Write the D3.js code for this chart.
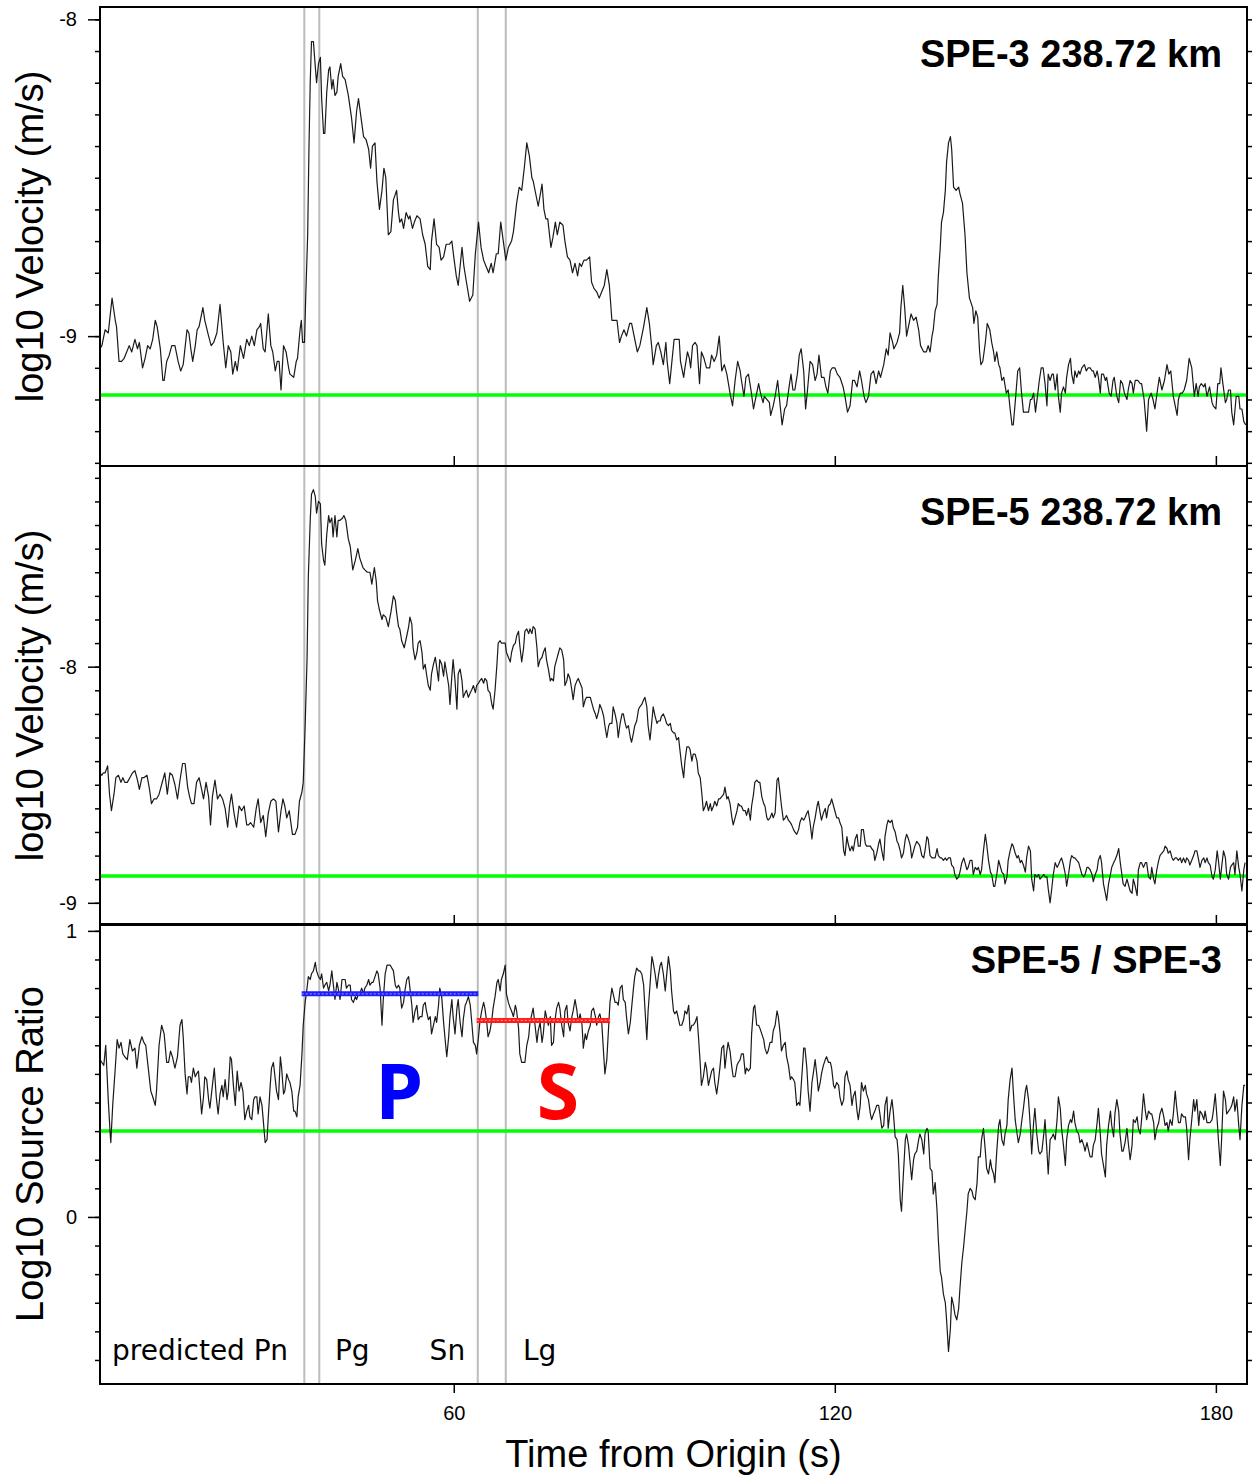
<!DOCTYPE html>
<html>
<head>
<meta charset="utf-8">
<script src="https://cdn.jsdelivr.net/npm/d3@7"></script>
<style>
body { margin: 0; background: #fff; }
svg { display: block; background: #fff; }
.frame { fill: none; stroke: #000; stroke-width: 2; }
.axis path { display: none; }
.axis line { stroke: #000; stroke-width: 1.5; }
.axis text { font-family: 'Liberation Sans', Arial, Helvetica, sans-serif; font-size: 20px; fill: #000; }
.trace { fill: none; stroke: #1a1a1a; stroke-width: 1.2; stroke-linejoin: round; }
.title { font-family: 'Liberation Sans', Arial, Helvetica, sans-serif; font-size: 38px; font-weight: bold; text-anchor: end; }
.ylabel, .xlabel { font-family: 'Liberation Sans', Arial, Helvetica, sans-serif; font-size: 38px; text-anchor: middle; }
.phase { font-family: 'DejaVu Sans', 'Open Sans', sans-serif; font-size: 28px; }
.window-label { font-family: 'Open Sans', 'DejaVu Sans', sans-serif; font-size: 77px; font-weight: bold; text-anchor: middle; }
</style>
</head>
<body>
<svg width="1257" height="1477"></svg>
<script>
// Time (s) and log10 velocity
var spe3Trace = [
[4.3,-9.04],[4.6,-9.03],[5.1,-8.98],[5.6,-8.99],[6.2,-8.88],[6.7,-8.95],[6.9,-8.97],[7.3,-9.08],[7.7,-9.08],[8.1,-9.07],[8.5,-9.05],[8.9,-9.03],[9.3,-9.05],[9.8,-9.01],[10.2,-9.04],[10.5,-9.02],[11.0,-9.10],[11.4,-9.07],[11.8,-9.03],[12.2,-9.04],[12.6,-9.01],[13.0,-8.95],[13.3,-8.97],[13.8,-9.04],[14.2,-9.14],[14.4,-9.14],[14.8,-9.08],[15.2,-9.06],[15.6,-9.03],[16.1,-9.03],[16.6,-9.08],[17.0,-9.11],[17.4,-9.09],[18.0,-8.98],[18.3,-8.99],[18.6,-9.04],[18.9,-9.08],[19.3,-9.03],[19.6,-8.98],[19.9,-8.97],[20.5,-8.91],[20.8,-8.95],[21.4,-9.00],[21.8,-9.03],[22.2,-9.02],[22.7,-8.99],[23.2,-8.90],[23.7,-9.02],[24.1,-9.10],[24.5,-9.03],[24.9,-9.05],[25.2,-9.12],[25.6,-9.08],[25.9,-9.11],[26.4,-9.03],[26.9,-9.07],[27.4,-9.01],[27.8,-9.03],[28.2,-9.00],[28.6,-9.03],[29.0,-8.98],[29.4,-8.97],[29.6,-8.96],[30.0,-9.04],[30.3,-9.05],[30.8,-8.93],[31.2,-9.03],[31.5,-9.05],[31.9,-9.11],[32.2,-9.08],[32.5,-9.08],[32.8,-9.17],[33.2,-9.03],[33.6,-9.05],[34.0,-9.10],[34.2,-9.12],[34.8,-9.13],[35.2,-9.08],[35.4,-9.07],[35.8,-8.98],[36.0,-8.95],[36.2,-9.02],[36.5,-9.02],[36.7,-8.87],[37.0,-8.68],[37.2,-8.41],[37.4,-8.20],[37.6,-8.07],[37.9,-8.07],[38.2,-8.15],[38.4,-8.20],[38.7,-8.14],[39.0,-8.12],[39.2,-8.25],[39.5,-8.36],[39.7,-8.36],[40.0,-8.23],[40.3,-8.16],[40.5,-8.15],[40.8,-8.22],[41.0,-8.19],[41.3,-8.24],[41.6,-8.23],[41.8,-8.18],[42.2,-8.14],[42.5,-8.18],[42.9,-8.19],[43.4,-8.24],[43.9,-8.31],[44.3,-8.39],[44.7,-8.29],[45.0,-8.25],[45.4,-8.31],[45.8,-8.37],[46.2,-8.38],[46.6,-8.41],[46.9,-8.47],[47.2,-8.40],[47.6,-8.39],[47.9,-8.51],[48.3,-8.60],[48.7,-8.54],[49.0,-8.47],[49.3,-8.50],[49.7,-8.68],
[50.1,-8.67],[50.5,-8.57],[51.0,-8.54],[51.3,-8.61],[51.5,-8.64],[51.8,-8.63],[52.1,-8.66],[52.5,-8.61],[52.9,-8.63],[53.1,-8.62],[53.5,-8.66],[53.8,-8.64],[54.2,-8.62],[54.7,-8.63],[55.1,-8.68],[55.5,-8.71],[55.9,-8.78],[56.3,-8.79],[56.5,-8.70],[56.9,-8.63],[57.3,-8.71],[57.7,-8.72],[58.0,-8.76],[58.4,-8.75],[58.8,-8.71],[59.3,-8.71],[59.7,-8.70],[60.0,-8.75],[60.4,-8.81],[60.7,-8.84],[61.3,-8.72],[61.6,-8.78],[62.0,-8.83],[62.5,-8.89],[63.0,-8.87],[63.4,-8.74],[63.9,-8.64],[64.3,-8.72],[64.7,-8.76],[65.1,-8.78],[65.5,-8.80],[65.9,-8.77],[66.2,-8.80],[66.7,-8.74],[67.0,-8.74],[67.4,-8.64],[67.8,-8.70],[68.2,-8.76],[68.6,-8.72],[69.1,-8.70],[69.4,-8.67],[69.9,-8.58],[70.3,-8.53],[70.7,-8.54],[71.1,-8.47],[71.5,-8.39],[71.9,-8.43],[72.3,-8.50],[72.5,-8.51],[73.0,-8.56],[73.3,-8.59],[73.9,-8.52],[74.2,-8.60],[74.5,-8.63],[74.8,-8.63],[75.3,-8.72],[75.6,-8.69],[76.0,-8.64],[76.3,-8.68],[76.7,-8.64],[77.2,-8.65],[77.5,-8.70],[77.9,-8.75],[78.3,-8.76],[78.7,-8.80],[79.1,-8.77],[79.5,-8.81],[79.8,-8.77],[80.1,-8.78],[80.5,-8.76],[80.9,-8.76],[81.4,-8.75],[81.7,-8.83],[82.1,-8.85],[82.5,-8.86],[82.9,-8.88],[83.3,-8.86],[83.7,-8.84],[84.1,-8.79],[84.5,-8.84],[84.9,-8.95],[85.2,-8.95],[85.7,-8.95],[86.1,-9.02],[86.4,-9.00],[86.8,-8.98],[87.2,-9.00],[87.7,-8.96],[88.0,-8.96],[88.4,-9.00],[88.9,-9.05],[89.3,-9.03],[89.9,-8.97],[90.4,-8.91],[90.8,-8.96],[91.2,-9.04],[91.4,-9.09],[91.9,-9.03],[92.2,-9.02],[92.6,-9.05],[93.0,-9.09],[93.4,-9.02],[93.6,-9.08],[94.0,-9.15],[94.3,-9.09],[94.7,-9.01],[95.1,-9.01],[95.5,-9.01],
[95.7,-9.08],[96.2,-9.13],[96.4,-9.10],[96.8,-9.05],[97.1,-9.07],[97.3,-9.10],[97.6,-9.03],[98.0,-9.02],[98.3,-9.03],[98.7,-9.15],[99.0,-9.05],[99.4,-9.07],[99.8,-9.10],[100.3,-9.10],[100.6,-9.06],[101.0,-9.08],[101.4,-9.06],[101.8,-9.00],[102.2,-9.11],[102.6,-9.09],[103.0,-9.12],[103.5,-9.18],[103.9,-9.22],[104.3,-9.14],[104.7,-9.08],[105.1,-9.11],[105.3,-9.14],[105.7,-9.19],[106.0,-9.13],[106.4,-9.12],[106.8,-9.17],[107.2,-9.23],[107.6,-9.19],[108.0,-9.15],[108.3,-9.18],[108.7,-9.21],[108.9,-9.19],[109.3,-9.20],[109.7,-9.21],[109.9,-9.25],[110.3,-9.22],[110.6,-9.19],[111.0,-9.14],[111.3,-9.20],[111.7,-9.28],[112.1,-9.23],[112.4,-9.22],[112.8,-9.16],[113.1,-9.12],[113.4,-9.17],[113.7,-9.17],[114.1,-9.12],[114.4,-9.06],[114.7,-9.04],[115.1,-9.11],[115.4,-9.23],[115.7,-9.17],[116.1,-9.08],[116.5,-9.09],[116.9,-9.14],[117.2,-9.12],[117.5,-9.06],[117.9,-9.13],[118.3,-9.13],[118.6,-9.16],[118.9,-9.18],[119.3,-9.11],[119.6,-9.10],[120.0,-9.10],[120.4,-9.12],[120.8,-9.13],[121.3,-9.16],[121.6,-9.19],[122.0,-9.24],[122.4,-9.22],[122.8,-9.14],[123.1,-9.14],[123.5,-9.16],[123.9,-9.11],[124.2,-9.14],[124.6,-9.19],[124.9,-9.21],[125.3,-9.19],[125.7,-9.12],[126.1,-9.11],[126.5,-9.15],[126.9,-9.11],[127.2,-9.13],[127.7,-9.09],[128.1,-9.04],[128.4,-9.06],[128.7,-8.99],[129.1,-9.02],[129.3,-9.04],[129.8,-9.02],[130.2,-8.99],[130.4,-8.91],[130.7,-8.84],[131.0,-8.91],[131.3,-9.00],[131.6,-8.97],[132.0,-8.93],[132.4,-8.95],[132.8,-8.94],[133.2,-8.98],[133.5,-9.03],[134.0,-9.05],[134.4,-9.05],[134.7,-9.03],[135.0,-9.05],[135.3,-9.00],[135.5,-8.98],[135.8,-8.92],[136.1,-8.90],[136.3,-8.81],[136.6,-8.72],[136.8,-8.64],[137.1,-8.61],[137.4,-8.54],[137.6,-8.45],[137.9,-8.39],[138.2,-8.37],[138.4,-8.41],[138.7,-8.53],[139.1,-8.54],[139.5,-8.53],[139.7,-8.55],[140.1,-8.58],[140.5,-8.68],[140.8,-8.80],[141.2,-8.88],
[141.7,-8.91],[141.9,-8.96],[142.2,-8.92],[142.5,-8.94],[142.8,-9.05],[143.0,-9.09],[143.3,-9.08],[143.7,-9.02],[144.0,-8.96],[144.4,-8.98],[144.7,-9.02],[145.0,-9.05],[145.2,-9.08],[145.5,-9.05],[145.8,-9.09],[146.0,-9.10],[146.3,-9.14],[146.6,-9.13],[147.0,-9.18],[147.3,-9.17],[147.6,-9.23],[147.9,-9.28],[148.1,-9.28],[148.4,-9.21],[148.8,-9.11],[149.1,-9.10],[149.4,-9.18],[149.7,-9.24],[150.1,-9.24],[150.5,-9.24],[150.8,-9.20],[151.0,-9.20],[151.3,-9.18],[151.6,-9.24],[151.9,-9.19],[152.2,-9.14],[152.5,-9.10],[152.8,-9.10],[153.1,-9.15],[153.4,-9.22],[153.6,-9.12],[153.9,-9.14],[154.2,-9.12],[154.4,-9.12],[154.7,-9.17],[155.0,-9.12],[155.2,-9.19],[155.5,-9.24],[155.7,-9.18],[156.0,-9.16],[156.3,-9.18],[156.5,-9.13],[156.8,-9.09],[157.1,-9.07],[157.3,-9.12],[157.6,-9.15],[157.8,-9.11],[158.1,-9.13],[158.4,-9.11],[158.6,-9.12],[158.9,-9.10],[159.3,-9.09],[159.6,-9.11],[159.9,-9.10],[160.2,-9.10],[160.5,-9.11],[160.7,-9.11],[161.0,-9.13],[161.3,-9.11],[161.5,-9.13],[161.8,-9.18],[162.0,-9.12],[162.3,-9.12],[162.6,-9.14],[162.8,-9.13],[163.2,-9.18],[163.5,-9.19],[163.8,-9.14],[164.0,-9.13],[164.4,-9.19],[164.7,-9.21],[165.0,-9.14],[165.3,-9.15],[165.6,-9.18],[166.0,-9.20],[166.2,-9.17],[166.5,-9.14],[166.8,-9.15],[167.0,-9.18],[167.3,-9.14],[167.7,-9.14],[168.1,-9.15],[168.3,-9.15],[168.7,-9.20],[169.1,-9.30],[169.4,-9.20],[169.8,-9.18],[170.1,-9.20],[170.4,-9.23],[170.8,-9.17],[171.1,-9.13],[171.5,-9.17],[171.9,-9.14],[172.3,-9.09],[172.6,-9.12],[172.9,-9.11],[173.3,-9.19],[173.6,-9.22],[173.9,-9.25],[174.1,-9.20],[174.4,-9.18],[174.7,-9.18],[175.0,-9.17],[175.4,-9.14],[175.8,-9.07],[176.2,-9.10],[176.6,-9.19],[176.9,-9.15],[177.2,-9.19],[177.4,-9.16],[177.7,-9.15],[178.1,-9.16],[178.3,-9.15],[178.6,-9.19],[179.0,-9.16],[179.4,-9.21],[179.6,-9.22],[180.0,-9.23],[180.3,-9.15],[180.6,-9.15],[180.8,-9.10],[181.1,-9.15],[181.5,-9.21],[181.7,-9.20],[182.0,-9.17],[182.3,-9.17],[182.5,-9.24],[182.8,-9.28],[183.2,-9.19],[183.6,-9.19],[183.8,-9.23],[184.1,-9.23],[184.4,-9.27],[184.7,-9.28]
];

// Time (s) and log10 velocity
var spe5Trace = [
[4.3,-8.45],[4.6,-8.46],[4.8,-8.45],[5.1,-8.45],[5.5,-8.42],[5.8,-8.54],[6.1,-8.61],[6.5,-8.54],[6.8,-8.47],[7.2,-8.46],[7.6,-8.49],[7.9,-8.47],[8.2,-8.49],[8.6,-8.49],[9.0,-8.47],[9.4,-8.45],[9.8,-8.44],[10.2,-8.48],[10.5,-8.52],[10.9,-8.47],[11.2,-8.47],[11.7,-8.46],[12.1,-8.52],[12.4,-8.58],[12.8,-8.56],[13.2,-8.56],[13.6,-8.54],[14.0,-8.50],[14.5,-8.45],[14.9,-8.54],[15.3,-8.45],[15.7,-8.46],[16.1,-8.50],[16.5,-8.56],[16.9,-8.48],[17.3,-8.41],[17.7,-8.41],[18.1,-8.51],[18.4,-8.55],[18.7,-8.58],[19.1,-8.58],[19.5,-8.49],[19.9,-8.47],[20.3,-8.52],[20.6,-8.56],[21.0,-8.49],[21.4,-8.55],[21.7,-8.67],[22.0,-8.55],[22.4,-8.48],[22.8,-8.56],[23.2,-8.54],[23.6,-8.56],[24.0,-8.60],[24.4,-8.68],[24.7,-8.59],[25.0,-8.54],[25.4,-8.62],[25.8,-8.68],[26.2,-8.59],[26.6,-8.61],[27.0,-8.59],[27.4,-8.67],[27.7,-8.67],[28.0,-8.66],[28.5,-8.68],[28.9,-8.60],[29.2,-8.56],[29.6,-8.66],[30.0,-8.63],[30.4,-8.72],[30.8,-8.62],[31.2,-8.57],[31.6,-8.56],[32.0,-8.57],[32.4,-8.70],[32.8,-8.61],[33.1,-8.56],[33.4,-8.59],[33.7,-8.64],[34.1,-8.61],[34.3,-8.65],[34.6,-8.71],[35.0,-8.71],[35.4,-8.68],[35.7,-8.57],[36.1,-8.53],[36.3,-8.49],[36.6,-8.25],[36.9,-7.97],[37.1,-7.62],[37.4,-7.38],[37.6,-7.27],[37.9,-7.25],[38.2,-7.28],[38.4,-7.35],[38.7,-7.30],[39.0,-7.31],[39.2,-7.48],[39.5,-7.55],[39.7,-7.57],[40.0,-7.44],[40.3,-7.36],[40.5,-7.39],[40.8,-7.37],[41.0,-7.45],[41.3,-7.36],[41.6,-7.45],[41.8,-7.38],[42.1,-7.38],[42.5,-7.37],[42.7,-7.36],[43.0,-7.38],[43.4,-7.46],[43.7,-7.49],[44.1,-7.59],[44.5,-7.55],[44.9,-7.50],[45.2,-7.54],[45.7,-7.58],[46.0,-7.59],[46.4,-7.60],[46.8,-7.60],[47.1,-7.65],[47.5,-7.58],[47.8,-7.64],[48.0,-7.72],[48.3,-7.76],[48.7,-7.80],[48.9,-7.78],[49.3,-7.79],[49.7,-7.83],
[50.1,-7.77],[50.5,-7.70],[50.8,-7.72],[51.0,-7.77],[51.3,-7.83],[51.5,-7.84],[51.8,-7.89],[52.2,-7.92],[52.6,-7.87],[52.9,-7.83],[53.1,-7.79],[53.4,-7.82],[53.6,-7.92],[53.9,-7.97],[54.2,-7.94],[54.4,-7.90],[54.7,-7.89],[55.0,-7.94],[55.2,-8.01],[55.5,-7.99],[55.7,-8.03],[56.0,-8.08],[56.3,-8.10],[56.5,-8.03],[56.8,-7.99],[57.1,-7.96],[57.3,-8.00],[57.6,-8.06],[57.8,-7.97],[58.1,-7.99],[58.4,-8.04],[58.6,-7.98],[58.9,-8.03],[59.2,-8.08],[59.4,-8.16],[59.7,-8.04],[59.9,-7.97],[60.2,-8.06],[60.5,-8.18],[60.7,-8.03],[61.0,-8.01],[61.3,-8.06],[61.5,-8.13],[61.8,-8.11],[62.0,-8.10],[62.3,-8.13],[62.6,-8.11],[62.8,-8.10],[63.1,-8.08],[63.4,-8.11],[63.6,-8.08],[63.9,-8.07],[64.1,-8.06],[64.4,-8.05],[64.7,-8.07],[64.9,-8.05],[65.2,-8.06],[65.4,-8.10],[65.7,-8.11],[66.0,-8.16],[66.2,-8.18],[66.5,-8.10],[66.8,-7.99],[67.0,-7.90],[67.3,-7.89],[67.5,-7.90],[67.8,-7.90],[68.1,-7.90],[68.3,-7.94],[68.6,-7.96],[68.9,-7.98],[69.1,-7.94],[69.4,-7.91],[69.7,-7.90],[69.9,-7.87],[70.2,-7.85],[70.4,-7.91],[70.7,-7.98],[71.0,-7.92],[71.2,-7.85],[71.5,-7.84],[71.8,-7.86],[72.0,-7.84],[72.3,-7.86],[72.5,-7.83],[72.8,-7.84],[73.1,-7.92],[73.3,-8.00],[73.6,-7.97],[73.9,-7.96],[74.1,-7.94],[74.4,-7.92],[74.6,-7.97],[74.9,-8.01],[75.2,-8.06],[75.4,-8.05],[75.7,-8.06],[75.9,-8.00],[76.2,-7.97],[76.5,-7.94],[76.7,-7.92],[77.0,-7.93],[77.3,-7.97],[77.5,-8.08],[77.8,-8.06],[78.0,-8.03],[78.3,-8.05],[78.6,-8.10],[78.8,-8.14],[79.1,-8.08],[79.4,-8.06],[79.6,-8.05],[79.9,-8.07],[80.2,-8.09],[80.4,-8.17],[80.7,-8.14],[80.9,-8.13],[81.2,-8.13],[81.5,-8.13],[81.7,-8.15],[82.0,-8.18],[82.3,-8.20],[82.5,-8.22],[82.8,-8.19],[83.0,-8.16],[83.3,-8.18],[83.6,-8.21],[83.8,-8.25],[84.1,-8.30],[84.4,-8.25],[84.6,-8.24],[84.9,-8.24],[85.1,-8.17],[85.4,-8.20],[85.7,-8.24],[85.9,-8.30],[86.2,-8.24],[86.5,-8.20],[86.7,-8.20],[87.0,-8.24],[87.2,-8.26],[87.5,-8.25],[87.8,-8.30],[88.0,-8.32],[88.3,-8.28],[88.5,-8.25],[88.8,-8.23],[89.1,-8.18],[89.3,-8.17],[89.6,-8.16],[89.9,-8.14],[90.1,-8.13],[90.4,-8.17],[90.6,-8.25],[90.9,-8.31],[91.2,-8.23],[91.4,-8.17],[91.7,-8.21],[92.0,-8.24],[92.2,-8.23],[92.5,-8.23],[92.7,-8.21],[93.0,-8.20],[93.3,-8.22],[93.5,-8.24],[93.8,-8.25],[94.1,-8.24],[94.3,-8.27],[94.6,-8.28],[94.8,-8.28],[95.1,-8.31],[95.4,-8.30],[95.6,-8.35],
[95.9,-8.42],[96.2,-8.47],[96.4,-8.40],[96.7,-8.34],[97.0,-8.34],[97.2,-8.35],[97.5,-8.40],[97.7,-8.37],[98.0,-8.37],[98.3,-8.40],[98.5,-8.45],[98.8,-8.47],[99.0,-8.52],[99.3,-8.61],[99.6,-8.59],[99.8,-8.57],[100.1,-8.61],[100.4,-8.58],[100.6,-8.61],[100.9,-8.59],[101.1,-8.57],[101.4,-8.59],[101.7,-8.56],[101.9,-8.56],[102.2,-8.55],[102.5,-8.54],[102.7,-8.51],[103.0,-8.56],[103.2,-8.55],[103.5,-8.58],[103.8,-8.64],[104.0,-8.67],[104.3,-8.64],[104.6,-8.61],[104.8,-8.58],[105.1,-8.59],[105.3,-8.59],[105.6,-8.61],[105.9,-8.61],[106.1,-8.63],[106.4,-8.60],[106.7,-8.65],[106.9,-8.59],[107.2,-8.54],[107.4,-8.49],[107.7,-8.48],[108.0,-8.49],[108.2,-8.49],[108.5,-8.55],[108.8,-8.58],[109.0,-8.59],[109.3,-8.64],[109.5,-8.65],[109.8,-8.64],[110.1,-8.62],[110.3,-8.64],[110.6,-8.62],[110.9,-8.48],[111.1,-8.47],[111.4,-8.54],[111.6,-8.59],[111.9,-8.65],[112.2,-8.64],[112.4,-8.63],[112.7,-8.65],[113.0,-8.66],[113.2,-8.67],[113.5,-8.69],[113.7,-8.70],[114.0,-8.71],[114.3,-8.69],[114.5,-8.66],[114.8,-8.64],[115.1,-8.65],[115.3,-8.64],[115.6,-8.62],[115.8,-8.61],[116.1,-8.66],[116.4,-8.73],[116.6,-8.68],[116.9,-8.64],[117.2,-8.59],[117.4,-8.57],[117.7,-8.62],[117.9,-8.65],[118.2,-8.62],[118.5,-8.60],[118.7,-8.64],[119.0,-8.59],[119.3,-8.58],[119.5,-8.56],[119.8,-8.59],[120.0,-8.61],[120.3,-8.64],[120.6,-8.64],[120.8,-8.66],[121.1,-8.68],[121.4,-8.78],[121.6,-8.80],[121.9,-8.72],[122.1,-8.75],[122.4,-8.78],[122.7,-8.76],[122.9,-8.78],[123.2,-8.73],[123.5,-8.71],[123.7,-8.76],[124.0,-8.76],[124.2,-8.69],[124.5,-8.69],[124.8,-8.75],[125.0,-8.76],[125.3,-8.76],[125.6,-8.76],[125.8,-8.77],[126.1,-8.78],[126.3,-8.82],[126.6,-8.79],[126.9,-8.75],[127.1,-8.73],[127.4,-8.78],[127.7,-8.82],[127.9,-8.72],[128.2,-8.67],[128.4,-8.65],[128.7,-8.66],[129.0,-8.65],[129.2,-8.68],[129.5,-8.70],[129.8,-8.74],[130.0,-8.75],[130.3,-8.78],[130.5,-8.81],[130.8,-8.79],[131.1,-8.73],[131.3,-8.71],[131.6,-8.73],[131.9,-8.76],[132.1,-8.81],[132.4,-8.78],[132.6,-8.76],[132.9,-8.74],[133.2,-8.75],[133.4,-8.76],[133.7,-8.80],[134.0,-8.81],[134.2,-8.78],[134.5,-8.72],[134.7,-8.73],[135.0,-8.80],[135.3,-8.81],[135.5,-8.81],[135.8,-8.81],[136.1,-8.77],[136.3,-8.80],[136.6,-8.81],[136.8,-8.81],[137.1,-8.82],[137.4,-8.81],[137.6,-8.82],[137.9,-8.81],[138.2,-8.81],[138.4,-8.84],[138.7,-8.85],[138.9,-8.88],[139.2,-8.90],[139.5,-8.89],[139.7,-8.87],[140.0,-8.83],[140.3,-8.81],[140.5,-8.83],[140.8,-8.86],[141.0,-8.85],[141.3,-8.82],
[141.6,-8.82],[141.8,-8.88],[142.1,-8.85],[142.4,-8.86],[142.6,-8.85],[142.9,-8.88],[143.1,-8.86],[143.4,-8.78],[143.7,-8.71],[143.9,-8.75],[144.2,-8.82],[144.5,-8.87],[144.7,-8.88],[145.0,-8.93],[145.2,-8.93],[145.5,-8.88],[145.8,-8.82],[146.0,-8.84],[146.3,-8.87],[146.6,-8.88],[146.8,-8.92],[147.1,-8.89],[147.3,-8.82],[147.6,-8.78],[147.9,-8.75],[148.1,-8.76],[148.4,-8.79],[148.7,-8.81],[148.9,-8.80],[149.2,-8.83],[149.4,-8.82],[149.7,-8.84],[150.0,-8.87],[150.2,-8.81],[150.5,-8.76],[150.8,-8.78],[151.0,-8.90],[151.3,-8.95],[151.5,-8.88],[151.8,-8.89],[152.1,-8.88],[152.3,-8.90],[152.6,-8.89],[152.9,-8.88],[153.1,-8.89],[153.4,-8.89],[153.6,-8.94],[153.9,-9.00],[154.2,-8.93],[154.4,-8.88],[154.7,-8.83],[155.0,-8.85],[155.2,-8.84],[155.5,-8.82],[155.7,-8.81],[156.0,-8.84],[156.3,-8.88],[156.5,-8.93],[156.8,-8.88],[157.1,-8.82],[157.3,-8.80],[157.6,-8.81],[157.8,-8.81],[158.1,-8.82],[158.4,-8.83],[158.6,-8.85],[158.9,-8.88],[159.2,-8.89],[159.4,-8.88],[159.7,-8.85],[159.9,-8.85],[160.2,-8.86],[160.5,-8.88],[160.7,-8.91],[161.0,-8.88],[161.3,-8.86],[161.5,-8.82],[161.8,-8.80],[162.0,-8.83],[162.3,-8.92],[162.6,-8.96],[162.8,-8.99],[163.1,-8.92],[163.4,-8.88],[163.6,-8.85],[163.9,-8.83],[164.1,-8.82],[164.4,-8.80],[164.7,-8.77],[164.9,-8.82],[165.2,-8.88],[165.4,-8.92],[165.7,-8.93],[166.0,-8.90],[166.2,-8.92],[166.5,-8.95],[166.8,-8.96],[167.0,-8.90],[167.3,-8.93],[167.6,-8.97],[167.8,-8.86],[168.1,-8.83],[168.3,-8.83],[168.6,-8.85],[168.9,-8.83],[169.1,-8.83],[169.4,-8.89],[169.7,-8.90],[169.9,-8.85],[170.2,-8.90],[170.4,-8.92],[170.7,-8.86],[171.0,-8.82],[171.2,-8.80],[171.5,-8.79],[171.8,-8.78],[172.0,-8.76],[172.3,-8.77],[172.5,-8.79],[172.8,-8.78],[173.1,-8.81],[173.3,-8.82],[173.6,-8.81],[173.8,-8.81],[174.1,-8.82],[174.4,-8.81],[174.6,-8.83],[174.9,-8.81],[175.2,-8.83],[175.4,-8.81],[175.7,-8.82],[175.9,-8.84],[176.2,-8.82],[176.5,-8.80],[176.7,-8.78],[177.0,-8.78],[177.3,-8.82],[177.5,-8.85],[177.8,-8.82],[178.1,-8.81],[178.3,-8.83],[178.6,-8.81],[178.8,-8.83],[179.1,-8.84],[179.4,-8.89],[179.6,-8.90],[179.9,-8.86],[180.2,-8.78],[180.4,-8.82],[180.7,-8.90],[180.9,-8.85],[181.2,-8.78],[181.5,-8.81],[181.7,-8.88],[182.0,-8.90],[182.3,-8.85],[182.5,-8.84],[182.8,-8.83],[183.0,-8.88],[183.3,-8.78],[183.6,-8.85],[183.8,-8.88],[184.1,-8.95],[184.4,-8.86],[184.6,-8.83]
];

// Time (s) and log10 SPE-5 / SPE-3 source ratio
var ratioTrace = [
[4.3,0.55],[4.6,0.54],[4.9,0.53],[5.2,0.60],[5.6,0.41],[5.9,0.29],[6.0,0.26],[6.3,0.39],[6.7,0.52],[7.0,0.62],[7.3,0.59],[7.6,0.61],[7.9,0.57],[8.2,0.56],[8.6,0.55],[9.0,0.62],[9.4,0.58],[9.8,0.59],[10.1,0.52],[10.5,0.60],[10.9,0.63],[11.2,0.61],[11.5,0.60],[11.9,0.52],[12.3,0.44],[12.6,0.42],[13.0,0.39],[13.2,0.44],[13.6,0.60],[14.0,0.67],[14.4,0.64],[14.8,0.54],[15.1,0.54],[15.4,0.58],[15.7,0.56],[16.1,0.52],[16.5,0.56],[16.9,0.67],[17.2,0.69],[17.4,0.63],[17.7,0.50],[18.0,0.43],[18.2,0.49],[18.5,0.49],[18.7,0.47],[19.0,0.52],[19.3,0.49],[19.5,0.50],[19.8,0.51],[20.1,0.42],[20.3,0.36],[20.6,0.42],[20.8,0.49],[21.1,0.48],[21.4,0.41],[21.6,0.38],[21.9,0.44],[22.3,0.52],[22.6,0.42],[22.9,0.36],[23.2,0.43],[23.5,0.46],[23.7,0.42],[24.0,0.48],[24.3,0.41],[24.5,0.44],[24.8,0.56],[25.0,0.55],[25.3,0.46],[25.6,0.39],[25.9,0.51],[26.2,0.44],[26.5,0.47],[26.8,0.44],[27.1,0.34],[27.4,0.37],[27.7,0.39],[27.9,0.35],[28.2,0.34],[28.5,0.41],[28.7,0.42],[29.0,0.42],[29.2,0.36],[29.5,0.42],[29.8,0.39],[30.0,0.34],[30.3,0.26],[30.6,0.27],[30.8,0.35],[31.1,0.46],[31.3,0.52],[31.6,0.54],[31.9,0.48],[32.1,0.44],[32.4,0.41],[32.7,0.56],[32.9,0.52],[33.2,0.43],[33.4,0.44],[33.7,0.50],[34.0,0.48],[34.2,0.47],[34.5,0.44],[34.8,0.37],[35.0,0.37],[35.3,0.35],[35.5,0.42],[35.8,0.46],[36.1,0.57],[36.3,0.67],[36.6,0.75],[36.9,0.80],[37.1,0.84],[37.4,0.83],[37.6,0.85],[37.9,0.86],[38.2,0.89],[38.4,0.86],[38.7,0.84],[39.0,0.83],[39.2,0.85],[39.5,0.80],[39.7,0.81],[40.0,0.82],[40.3,0.79],[40.5,0.81],[40.8,0.86],[41.0,0.82],[41.3,0.76],[41.6,0.82],[41.8,0.80],[42.1,0.76],[42.4,0.83],[42.6,0.83],[42.9,0.83],[43.1,0.80],[43.4,0.81],[43.7,0.81],[43.9,0.76],[44.2,0.75],[44.5,0.77],[44.7,0.76],[45.0,0.78],[45.2,0.78],[45.5,0.80],[45.8,0.78],[46.0,0.80],[46.3,0.81],[46.6,0.83],[46.8,0.81],[47.1,0.82],[47.3,0.82],[47.6,0.84],[47.9,0.86],[48.1,0.85],[48.4,0.80],[48.7,0.67],[48.9,0.76],[49.2,0.85],[49.5,0.88],[49.7,0.88],
[50.0,0.88],[50.5,0.86],[50.8,0.81],[51.0,0.80],[51.3,0.81],[51.5,0.80],[51.8,0.73],[52.1,0.75],[52.3,0.79],[52.6,0.83],[52.9,0.84],[53.1,0.80],[53.4,0.74],[53.6,0.68],[53.9,0.72],[54.2,0.74],[54.4,0.69],[54.7,0.70],[55.0,0.70],[55.2,0.74],[55.5,0.75],[55.7,0.72],[56.0,0.69],[56.3,0.70],[56.5,0.64],[56.8,0.67],[57.1,0.70],[57.3,0.68],[57.6,0.74],[57.8,0.80],[58.1,0.77],[58.4,0.68],[58.6,0.63],[58.9,0.56],[59.2,0.63],[59.4,0.70],[59.7,0.76],[59.9,0.70],[60.2,0.64],[60.5,0.73],[60.7,0.76],[61.0,0.68],[61.3,0.63],[61.5,0.69],[61.8,0.74],[62.0,0.75],[62.3,0.77],[62.6,0.74],[62.8,0.69],[63.1,0.61],[63.4,0.60],[63.6,0.57],[63.9,0.63],[64.1,0.68],[64.4,0.72],[64.7,0.75],[64.9,0.73],[65.2,0.68],[65.4,0.63],[65.7,0.65],[66.0,0.69],[66.2,0.73],[66.5,0.77],[66.8,0.82],[67.0,0.83],[67.3,0.79],[67.5,0.83],[67.8,0.85],[68.1,0.88],[68.3,0.78],[68.6,0.75],[68.9,0.73],[69.1,0.72],[69.4,0.70],[69.7,0.74],[69.9,0.72],[70.2,0.66],[70.4,0.57],[70.7,0.54],[71.0,0.54],[71.2,0.54],[71.5,0.60],[71.8,0.63],[72.0,0.68],[72.3,0.71],[72.5,0.73],[72.8,0.67],[73.1,0.61],[73.3,0.65],[73.6,0.68],[73.9,0.61],[74.1,0.64],[74.4,0.72],[74.6,0.70],[74.9,0.67],[75.2,0.70],[75.4,0.60],[75.7,0.61],[75.9,0.68],[76.2,0.73],[76.5,0.75],[76.7,0.73],[77.0,0.67],[77.3,0.63],[77.5,0.72],[77.8,0.74],[78.0,0.68],[78.3,0.65],[78.6,0.70],[78.8,0.72],[79.1,0.76],[79.4,0.72],[79.6,0.68],[79.9,0.71],[80.2,0.67],[80.4,0.59],[80.7,0.64],[80.9,0.62],[81.2,0.65],[81.5,0.67],[81.7,0.72],[82.0,0.73],[82.3,0.70],[82.5,0.67],[82.8,0.70],[83.0,0.71],[83.3,0.68],[83.6,0.57],[83.8,0.50],[84.1,0.55],[84.4,0.67],[84.6,0.75],[84.9,0.80],[85.1,0.78],[85.4,0.75],[85.7,0.75],[85.9,0.74],[86.2,0.80],[86.5,0.81],[86.7,0.76],[87.0,0.75],[87.2,0.70],[87.5,0.64],[87.8,0.68],[88.0,0.73],[88.3,0.80],[88.5,0.84],[88.8,0.87],[89.1,0.86],[89.3,0.86],[89.6,0.85],[89.9,0.81],[90.1,0.73],[90.4,0.62],[90.6,0.72],[90.9,0.81],[91.2,0.91],[91.4,0.89],[91.7,0.85],[92.0,0.80],[92.2,0.84],[92.5,0.88],[92.7,0.89],[93.0,0.85],[93.3,0.79],[93.5,0.84],[93.8,0.91],[94.1,0.86],[94.3,0.79],[94.6,0.72],[94.8,0.71],[95.1,0.72],[95.4,0.69],[95.6,0.67],
[95.9,0.67],[96.2,0.69],[96.4,0.72],[96.7,0.71],[97.0,0.74],[97.2,0.65],[97.5,0.67],[97.7,0.67],[98.0,0.68],[98.3,0.70],[98.5,0.64],[98.8,0.54],[99.0,0.46],[99.3,0.49],[99.6,0.54],[99.8,0.52],[100.1,0.46],[100.4,0.49],[100.6,0.51],[100.9,0.52],[101.1,0.47],[101.4,0.43],[101.7,0.48],[101.9,0.52],[102.2,0.59],[102.5,0.60],[102.7,0.52],[103.0,0.58],[103.2,0.61],[103.5,0.58],[103.8,0.52],[104.0,0.49],[104.3,0.49],[104.6,0.53],[104.8,0.54],[105.1,0.55],[105.3,0.57],[105.6,0.57],[105.9,0.50],[106.1,0.52],[106.4,0.51],[106.7,0.52],[106.9,0.64],[107.2,0.73],[107.4,0.74],[107.7,0.67],[108.0,0.67],[108.2,0.66],[108.5,0.64],[108.8,0.62],[109.0,0.59],[109.3,0.57],[109.5,0.58],[109.8,0.61],[110.1,0.61],[110.3,0.65],[110.6,0.67],[110.9,0.72],[111.1,0.70],[111.4,0.64],[111.6,0.58],[111.9,0.60],[112.2,0.61],[112.4,0.56],[112.7,0.53],[113.0,0.48],[113.2,0.49],[113.5,0.48],[113.7,0.47],[114.0,0.39],[114.3,0.40],[114.5,0.39],[114.8,0.49],[115.1,0.59],[115.3,0.59],[115.6,0.52],[115.8,0.44],[116.1,0.37],[116.4,0.47],[116.6,0.50],[116.9,0.55],[117.2,0.49],[117.4,0.44],[117.7,0.47],[117.9,0.50],[118.2,0.53],[118.5,0.55],[118.7,0.56],[119.0,0.54],[119.3,0.54],[119.5,0.52],[119.8,0.46],[120.0,0.45],[120.3,0.47],[120.6,0.46],[120.8,0.42],[121.1,0.39],[121.4,0.41],[121.6,0.49],[121.9,0.51],[122.1,0.48],[122.4,0.46],[122.7,0.39],[122.9,0.42],[123.2,0.44],[123.5,0.37],[123.7,0.34],[124.0,0.39],[124.2,0.47],[124.5,0.44],[124.8,0.46],[125.0,0.43],[125.3,0.41],[125.6,0.36],[125.8,0.34],[126.1,0.36],[126.3,0.37],[126.6,0.39],[126.9,0.39],[127.1,0.36],[127.4,0.31],[127.7,0.32],[127.9,0.39],[128.2,0.42],[128.4,0.31],[128.7,0.37],[129.0,0.41],[129.2,0.37],[129.5,0.28],[129.8,0.27],[130.0,0.22],[130.3,0.06],[130.5,0.02],[130.8,0.15],[131.1,0.27],[131.3,0.29],[131.6,0.25],[131.9,0.18],[132.1,0.13],[132.4,0.20],[132.6,0.22],[132.9,0.23],[133.2,0.27],[133.4,0.29],[133.7,0.27],[134.0,0.22],[134.2,0.29],[134.5,0.31],[134.7,0.30],[135.0,0.17],[135.3,0.16],[135.5,0.08],[135.8,0.12],[136.1,0.02],[136.3,-0.08],[136.6,-0.19],[136.8,-0.21],[137.1,-0.27],[137.4,-0.30],[137.6,-0.36],[137.9,-0.47],[138.2,-0.39],[138.4,-0.28],[138.7,-0.31],[138.9,-0.34],[139.2,-0.36],[139.5,-0.32],[139.7,-0.25],[140.0,-0.16],[140.3,-0.10],[140.5,-0.05],[140.8,0.02],[141.0,0.08],[141.3,0.10],
[141.6,0.09],[141.8,0.07],[142.1,0.06],[142.4,0.12],[142.6,0.21],[142.9,0.21],[143.1,0.27],[143.4,0.31],[143.7,0.23],[143.9,0.17],[144.2,0.15],[144.5,0.20],[144.7,0.17],[145.0,0.15],[145.2,0.12],[145.5,0.23],[145.8,0.32],[146.0,0.34],[146.3,0.27],[146.6,0.25],[146.8,0.29],[147.1,0.32],[147.3,0.41],[147.6,0.48],[147.9,0.52],[148.1,0.44],[148.4,0.34],[148.7,0.29],[148.9,0.26],[149.2,0.29],[149.4,0.33],[149.7,0.38],[150.0,0.44],[150.2,0.46],[150.5,0.41],[150.8,0.31],[151.0,0.22],[151.3,0.33],[151.5,0.38],[151.8,0.29],[152.1,0.23],[152.3,0.22],[152.6,0.23],[152.9,0.29],[153.1,0.34],[153.4,0.23],[153.6,0.15],[153.9,0.27],[154.2,0.28],[154.4,0.29],[154.7,0.27],[155.0,0.34],[155.2,0.42],[155.5,0.38],[155.7,0.31],[156.0,0.25],[156.3,0.18],[156.5,0.27],[156.8,0.32],[157.1,0.34],[157.3,0.33],[157.6,0.37],[157.8,0.33],[158.1,0.30],[158.4,0.29],[158.6,0.26],[158.9,0.27],[159.2,0.25],[159.4,0.23],[159.7,0.26],[159.9,0.24],[160.2,0.21],[160.5,0.21],[160.7,0.25],[161.0,0.27],[161.3,0.33],[161.5,0.38],[161.8,0.29],[162.0,0.22],[162.3,0.18],[162.6,0.14],[162.8,0.25],[163.1,0.32],[163.4,0.37],[163.6,0.32],[163.9,0.28],[164.1,0.36],[164.4,0.41],[164.7,0.37],[164.9,0.29],[165.2,0.23],[165.4,0.23],[165.7,0.26],[166.0,0.31],[166.2,0.26],[166.5,0.20],[166.8,0.25],[167.0,0.34],[167.3,0.33],[167.6,0.35],[167.8,0.31],[168.1,0.29],[168.3,0.34],[168.6,0.43],[168.9,0.37],[169.1,0.34],[169.4,0.37],[169.7,0.36],[169.9,0.36],[170.2,0.33],[170.4,0.27],[170.7,0.31],[171.0,0.33],[171.2,0.36],[171.5,0.38],[171.8,0.35],[172.0,0.32],[172.3,0.33],[172.5,0.30],[172.8,0.34],[173.1,0.32],[173.3,0.36],[173.6,0.44],[173.8,0.39],[174.1,0.33],[174.4,0.33],[174.6,0.36],[174.9,0.35],[175.2,0.35],[175.4,0.31],[175.7,0.20],[175.9,0.27],[176.2,0.34],[176.5,0.41],[176.7,0.37],[177.0,0.41],[177.3,0.32],[177.5,0.37],[177.8,0.36],[178.1,0.34],[178.3,0.37],[178.6,0.33],[178.8,0.33],[179.1,0.33],[179.4,0.34],[179.6,0.37],[179.9,0.43],[180.2,0.34],[180.4,0.27],[180.7,0.18],[180.9,0.27],[181.2,0.44],[181.5,0.41],[181.7,0.36],[182.0,0.37],[182.3,0.38],[182.5,0.39],[182.8,0.42],[183.0,0.37],[183.3,0.41],[183.6,0.32],[183.8,0.27],[184.1,0.39],[184.4,0.46],[184.6,0.46]
];

// Phase arrival times (s) and labels
var phaseTimes = [36.47, 38.83, 63.78, 68.19];
var phaseNames = ['predicted Pn', 'Pg', 'Sn', 'Lg'];
var phaseLabelTimes = [6.2, 41.3, 56.2, 70.9];

// Pre-event noise level in each panel
var noiseLevels = [-9.186, -8.886, 0.30];

// Average ratio in the P and S windows
var pWindow = [36.06, 63.87];
var pRatio = 0.78;
var sWindow = [63.62, 84.61];
var sRatio = 0.687;

var timeTicks = [60, 120, 180];
var panelTitles = ['SPE-3 238.72 km', 'SPE-5 238.72 km', 'SPE-5 / SPE-3'];
var yLabels = ['log10 Velocity (m/s)', 'log10 Velocity (m/s)', 'Log10 Source Ratio'];

var svg = d3.select('svg');
var plotLeft = 100, plotRight = 1247;

var xScale = d3.scaleLinear()
    .domain([4.3, 184.9])
    .range([plotLeft, plotRight]);

// Layout of the three stacked panels
var panels = [
    {trace: spe3Trace, top: 7, bottom: 466, domain: [-9.41, -7.961],
     minor: d3.range(-94, -79).map(function(d) { return d / 10; }), major: [-9, -8]},
    {trace: spe5Trace, top: 466, bottom: 925, domain: [-9.094, -7.15],
     minor: d3.range(-90, -71).map(function(d) { return d / 10; }), major: [-9, -8]},
    {trace: ratioTrace, top: 924, bottom: 1384, domain: [-0.584, 1.024],
     minor: d3.range(-5, 11).map(function(d) { return d / 10; }), major: [0, 1]}
];

panels.forEach(function(p, i) {
    p.y = d3.scaleLinear().domain(p.domain).range([p.bottom, p.top]);
});

// Phase lines across all panels
svg.append('g').selectAll('line')
    .data(phaseTimes)
    .enter()
    .append('line')
    .attr('x1', function(d) { return xScale(d); })
    .attr('x2', function(d) { return xScale(d); })
    .attr('y1', panels[0].top)
    .attr('y2', panels[2].bottom)
    .style('stroke', '#bcbcbc')
    .style('stroke-width', 2);

panels.forEach(function(p, i) {
    var g = svg.append('g');

    svg.append('clipPath')
        .attr('id', 'clip' + i)
        .append('rect')
        .attr('x', plotLeft)
        .attr('y', p.top)
        .attr('width', plotRight - plotLeft)
        .attr('height', p.bottom - p.top);

    // noise level
    g.append('line')
        .attr('x1', plotLeft)
        .attr('x2', plotRight)
        .attr('y1', p.y(noiseLevels[i]))
        .attr('y2', p.y(noiseLevels[i]))
        .style('stroke', '#00ff00')
        .style('stroke-width', 3.5);

    var line = d3.line()
        .x(function(d) { return xScale(d[0]); })
        .y(function(d) { return p.y(d[1]); });

    g.append('path')
        .datum(p.trace)
        .attr('class', 'trace')
        .attr('clip-path', 'url(#clip' + i + ')')
        .attr('d', line);
});

// P and S window averages on the ratio panel
var ratioY = panels[2].y;
var windows = [
    {range: pWindow, value: pRatio, color: '#1c1cff', light: '#8a8aff'},
    {range: sWindow, value: sRatio, color: '#ff1c1c', light: '#ff8a8a'}
];
windows.forEach(function(w) {
    svg.append('line')
        .attr('x1', xScale(w.range[0])).attr('x2', xScale(w.range[1]))
        .attr('y1', ratioY(w.value)).attr('y2', ratioY(w.value))
        .style('stroke', w.color).style('stroke-width', 5);
    svg.append('line')
        .attr('x1', xScale(w.range[0])).attr('x2', xScale(w.range[1]))
        .attr('y1', ratioY(w.value)).attr('y2', ratioY(w.value))
        .style('stroke', w.light).style('stroke-width', 1.2)
        .style('stroke-dasharray', '2,2');
});

svg.append('text')
    .attr('class', 'window-label')
    .attr('x', xScale(51.4))
    .attr('y', ratioY(0.344))
    .style('fill', '#0000ff')
    .text('P');

svg.append('text')
    .attr('class', 'window-label')
    .attr('x', xScale(76.4))
    .attr('y', ratioY(0.344))
    .style('fill', '#ff0000')
    .text('S');

// Phase names
svg.append('g').selectAll('text')
    .data(phaseNames)
    .enter()
    .append('text')
    .attr('class', 'phase')
    .attr('x', function(d, i) { return xScale(phaseLabelTimes[i]); })
    .attr('y', ratioY(-0.50))
    .text(function(d) { return d; });

// Frames, axes and labels
panels.forEach(function(p, i) {
    svg.append('rect')
        .attr('class', 'frame')
        .attr('x', plotLeft)
        .attr('y', p.top)
        .attr('width', plotRight - plotLeft)
        .attr('height', p.bottom - p.top);

    svg.append('g')
        .attr('class', 'axis')
        .attr('transform', 'translate(' + plotLeft + ',0)')
        .call(d3.axisLeft(p.y).tickValues(p.minor).tickSize(5).tickFormat(''));

    svg.append('g')
        .attr('class', 'axis')
        .attr('transform', 'translate(' + plotLeft + ',0)')
        .call(d3.axisLeft(p.y).tickValues(p.major).tickSize(12).tickPadding(11)
            .tickFormat(function(d) { return String(d); }));

    svg.append('g')
        .attr('class', 'axis')
        .attr('transform', 'translate(' + plotRight + ',0)')
        .call(d3.axisRight(p.y).tickValues(p.minor).tickSize(5).tickFormat(''));

    if (i < 2) {
        svg.append('g')
            .attr('class', 'axis')
            .attr('transform', 'translate(0,' + p.bottom + ')')
            .call(d3.axisBottom(xScale).tickValues(timeTicks).tickSize(-10).tickFormat(''));
    } else {
        svg.append('g')
            .attr('class', 'axis')
            .attr('transform', 'translate(0,' + p.bottom + ')')
            .call(d3.axisBottom(xScale).tickValues(timeTicks).tickSize(9).tickPadding(13)
                .tickFormat(function(d) { return String(d); }));
    }

    svg.append('text')
        .attr('class', 'title')
        .attr('x', 1222)
        .attr('y', [67, 525, 973][i])
        .text(panelTitles[i]);

    var mid = (p.top + p.bottom) / 2;
    svg.append('text')
        .attr('class', 'ylabel')
        .attr('transform', 'translate(43,' + mid + ') rotate(-90)')
        .text(yLabels[i]);
});

svg.append('text')
    .attr('class', 'xlabel')
    .attr('x', (plotLeft + plotRight) / 2)
    .attr('y', 1467)
    .text('Time from Origin (s)');
</script>
</body>
</html>
